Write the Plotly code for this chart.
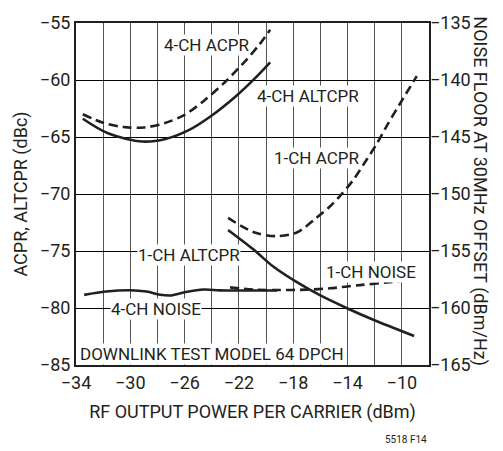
import plotly.graph_objects as go

# RF output power per carrier (dBm) and measured curves (dBc, left axis)
ch4_acpr_x = [-33.5, -32.0, -30.5, -29.0, -27.5, -26.0, -24.5, -23.0, -21.5, -20.5, -19.7]
ch4_acpr_y = [-63.0, -63.75, -64.13, -64.17, -63.8, -63.05, -61.75, -60.15, -58.3, -56.9, -55.6]

ch4_altcpr_x = [-33.5, -31.6, -29.1, -27.4, -25.7, -24.1, -22.2, -20.9, -19.7]
ch4_altcpr_y = [-63.4, -64.7, -65.4, -65.17, -64.4, -63.2, -61.4, -59.95, -58.45]

ch1_acpr_x = [-22.8, -20.9, -19.2, -17.7, -16.3, -15.3, -14.5, -13.6, -12.6, -11.8, -11.1, -10.1, -8.9]
ch1_acpr_y = [-72.1, -73.35, -73.7, -73.35, -72.1, -71.1, -70.1, -68.8, -67.0, -65.5, -64.0, -62.0, -59.66]

ch1_altcpr_x = [-22.8, -20.9, -19.5, -17.7, -16.0, -14.0, -12.1, -9.1]
ch1_altcpr_y = [-73.16, -74.9, -76.34, -77.76, -78.9, -80.04, -81.03, -82.45]

# noise floor at 30MHz offset (dBm/Hz), right axis
ch4_noise_x = [-33.4, -31.8, -30.0, -28.8, -27.8, -27.0, -25.9, -24.6, -23.4, -21.9, -19.2]
ch4_noise_y = [-158.85, -158.56, -158.44, -158.56, -158.84, -158.9, -158.6, -158.38, -158.45, -158.47, -158.47]

ch1_noise_x = [-22.65, -20.9, -19.2, -17.0, -15.3, -13.1, -11.1, -9.1]
ch1_noise_y = [-158.19, -158.39, -158.42, -158.39, -158.27, -157.99, -157.76, -157.48]

x_ticks = [-34, -30, -26, -22, -18, -14, -10]
left_ticks = [-55, -60, -65, -70, -75, -80, -85]
right_ticks = [-135, -140, -145, -150, -155, -160, -165]

FONT = "Roboto, Liberation Sans, Arial, sans-serif"
INK = "#231f20"
DASH = "9px,5px"

fig = go.Figure()

def add_curve(x, y, dashed, axis="y"):
    fig.add_trace(go.Scatter(
        x=x, y=y, mode="lines", yaxis=axis, showlegend=False, hoverinfo="skip",
        line=dict(color=INK, width=2.6, shape="spline", smoothing=0.9,
                  dash=DASH if dashed else "solid"),
    ))

add_curve(ch4_acpr_x, ch4_acpr_y, True)
add_curve(ch4_altcpr_x, ch4_altcpr_y, False)
add_curve(ch1_acpr_x, ch1_acpr_y, True)
add_curve(ch1_altcpr_x, ch1_altcpr_y, False)
add_curve(ch4_noise_x, ch4_noise_y, False, "y2")
add_curve(ch1_noise_x, ch1_noise_y, True, "y2")

labels = [
    ("4-CH ACPR", -24.4, -56.9),
    ("4-CH ALTCPR", -16.9, -61.4),
    ("1-CH ACPR", -16.3, -66.8),
    ("1-CH ALTCPR", -25.7, -75.35),
    ("4-CH NOISE", -28.1, -80.1),
    ("1-CH NOISE", -12.3, -76.8),
    ("DOWNLINK TEST MODEL 64 DPCH", -24.0, -84.0),
]
for text, lx, ly in labels:
    fig.add_annotation(x=lx, y=ly, text=text, showarrow=False, bgcolor="white",
                       borderpad=0, font=dict(family=FONT, size=17, color=INK))

# right-hand axis title, reading top to bottom
fig.add_annotation(xref="paper", yref="paper", x=1.181, y=0.508, textangle=90,
                   text="NOISE FLOOR AT 30MHz OFFSET (dBm/Hz)", showarrow=False,
                   font=dict(family=FONT, size=18, color=INK))

fig.add_annotation(xref="paper", yref="paper", x=1.0, y=-0.24, xanchor="right",
                   text="5518 F14", showarrow=False,
                   font=dict(family=FONT, size=10, color=INK))

fig.update_layout(
    width=503, height=451,
    margin=dict(l=76, r=74, t=13, b=86),
    paper_bgcolor="white", plot_bgcolor="white",
    font=dict(family=FONT, size=18, color=INK),
    xaxis=dict(
        range=[-34, -8], tickvals=x_ticks, ticks="", showline=True, mirror=True,
        linecolor=INK, linewidth=2, showgrid=True, gridcolor="#555555", gridwidth=1.3,
        minor=dict(dtick=2, tick0=-34, showgrid=True, gridcolor="#555555", gridwidth=1.3),
        zeroline=False,
        title=dict(text="RF OUTPUT POWER PER CARRIER (dBm)", standoff=14,
                   font=dict(family=FONT, size=18, color=INK)),
    ),
    yaxis=dict(
        range=[-85, -55], tickvals=left_ticks, ticks="", showline=True, mirror=True,
        linecolor=INK, linewidth=2, showgrid=True, gridcolor="#000000", gridwidth=1.2,
        zeroline=False,
        title=dict(text="ACPR, ALTCPR (dBc)", standoff=8,
                   font=dict(family=FONT, size=18, color=INK)),
    ),
    yaxis2=dict(
        range=[-165, -135], tickvals=right_ticks, overlaying="y", side="right",
        ticks="", showgrid=False, zeroline=False,
    ),
)

fig.write_html("out.html")
